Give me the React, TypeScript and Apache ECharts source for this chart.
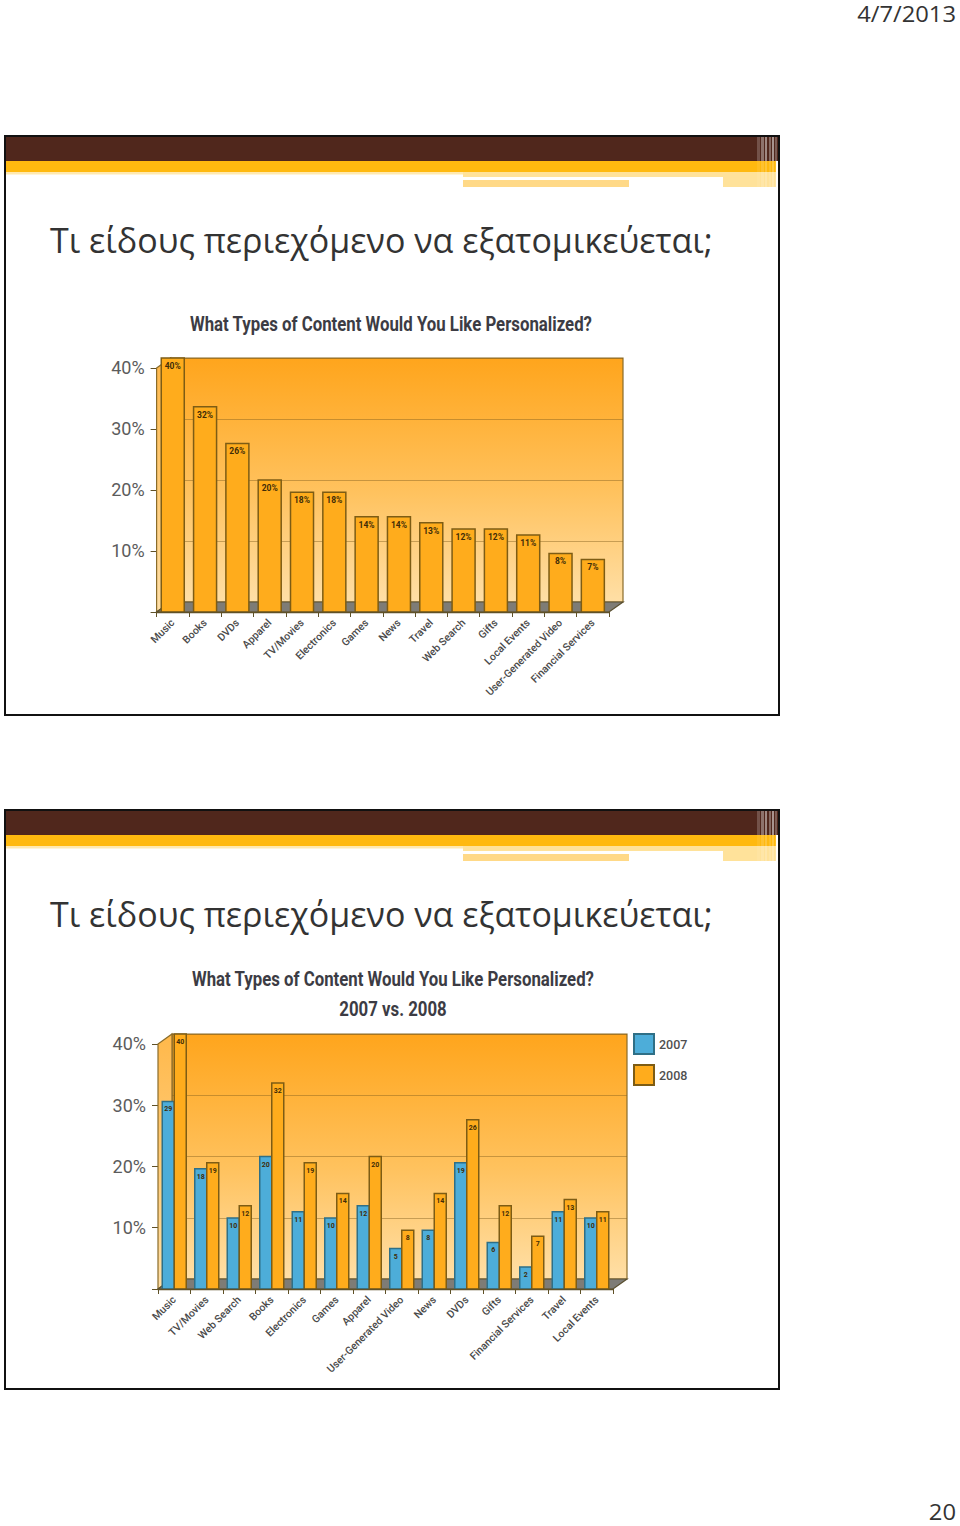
import React, { useEffect, useRef } from "react";
import * as echarts from "echarts";

const heading = "Τι είδους περιεχόμενο να εξατομικεύεται;";
const chartTitle = "What Types of Content Would You Like Personalized?";
const chartSubtitle = "2007 vs. 2008";
const dateText = "4/7/2013";
const pageNumber = "20";

const categoriesA = ["Music", "Books", "DVDs", "Apparel", "TV/Movies", "Electronics", "Games", "News", "Travel", "Web Search", "Gifts", "Local Events", "User-Generated Video", "Financial Services"];
const valuesA = [40, 32, 26, 20, 18, 18, 14, 14, 13, 12, 12, 11, 8, 7];

const categoriesB = ["Music", "TV/Movies", "Web Search", "Books", "Electronics", "Games", "Apparel", "User-Generated Video", "News", "DVDs", "Gifts", "Financial Services", "Travel", "Local Events"];
const values2007 = [29, 18, 10, 20, 11, 10, 12, 5, 8, 19, 6, 2, 11, 10];
const values2008 = [40, 19, 12, 32, 19, 14, 20, 8, 14, 26, 12, 7, 13, 11];

const yTicks = [10, 20, 30, 40];
const W = 960, H = 1526;
const FONT = "Roboto,'Liberation Sans',sans-serif";
const ORANGE = "#FFAC1C", BLUE = "#4DADD9";
const EDGE_O = "#7d5c14", EDGE_B = "#2f6f86", WALL_EDGE = "#8a6c2a";
const DEPTH_X = 14, DEPTH_Y = 10, FLOOR_VALUE = -1.6, TOP_FRONT = 41.6;

function header(dy: number): any[] {
  const r = (x: number, y: number, w: number, h: number, fill: string, opacity = 1) => ({
    type: "rect", z: 0, silent: true, shape: { x, y: y + dy, width: w, height: h }, style: { fill, opacity },
  });
  const stripes = [[757, 3, 0.2], [761, 3, 0.35], [765, 2, 0.45], [769, 2, 0.3], [772, 2, 0.5], [775, 2, 0.25]];
  return [
    { type: "rect", z: 0, silent: true, shape: { x: 5, y: 136 + dy, width: 774, height: 579 }, style: { fill: "none", stroke: "#111", lineWidth: 2 } },
    r(6, 137, 772, 24, "#50271C"),
    r(6, 161, 770, 11, "#FFB90F"),
    r(6, 172, 457, 2.5, "#FFE9B0"),
    r(463, 172, 313, 5, "#FFE29A"),
    r(463, 180, 166, 7, "#FFD987"),
    r(723, 177, 53, 10, "#FFE29A"),
    ...stripes.map(([x, w, o]) => r(x, 137, w, 24, "#fff", o)),
    ...stripes.map(([x, w, o]) => r(x, 161, w, 26, "#fff", o * 0.4)),
    { type: "text", z: 1, silent: true, style: { x: 50, y: 240 + dy, text: heading, fill: "#333", fontFamily: "'Open Sans'", fontSize: 34, textAlign: "left", textVerticalAlign: "middle" } },
  ];
}

function squeezedTitle(text: string, x: number, y: number): any {
  return {
    type: "text", z: 5, silent: true, x, y, scaleX: 0.8, scaleY: 1,
    style: { x: 0, y: 0, text, fill: "#3c3c44", fontFamily: FONT, fontWeight: "bold", fontSize: 21, textAlign: "center", textVerticalAlign: "middle" },
  };
}

function cornerText(text: string, y: number, stretch: number): any {
  return {
    type: "text", z: 1, silent: true, x: 956, y, scaleX: stretch, scaleY: 1,
    style: { x: 0, y: 0, text, fill: "#333", fontFamily: "'Open Sans'", fontSize: 22, textAlign: "right", textVerticalAlign: "middle" },
  };
}

function floorParts(left: number, right: number, top: number, bottom: number): any[] {
  return [
    { type: "polygon", z: 1, silent: true, shape: { points: [[left, top + DEPTH_Y], [left + DEPTH_X, top], [left + DEPTH_X, bottom - DEPTH_Y], [left, bottom]] },
      style: { fill: new echarts.graphic.LinearGradient(0, 0, 0, 1, [{ offset: 0, color: "#FFB84A" }, { offset: 1, color: "#FFDFA6" }]), stroke: WALL_EDGE, lineWidth: 1.2 } },
    { type: "polygon", z: 1, silent: true, shape: { points: [[left, bottom], [right, bottom], [right + DEPTH_X, bottom - DEPTH_Y], [left + DEPTH_X, bottom - DEPTH_Y]] },
      style: { fill: "#7E7C76", stroke: "#5a5030", lineWidth: 1.2 } },
  ];
}

function barSeries(name: string, values: number[], x: number, y: number, color: string, edge: string, width: number, shift: number, suffix: string, labelSize: number): any {
  return {
    type: "custom", name, xAxisIndex: x, yAxisIndex: y, z: 3, clip: false,
    itemStyle: { color, borderColor: edge, borderWidth: 1.5 },
    data: values.map((v, i) => [i, v]),
    encode: { x: 0, y: 1 },
    renderItem: (_p: any, api: any) => {
      const i = api.value(0), v = api.value(1);
      const top = api.coord([i, v]);
      const base = api.coord([i, FLOOR_VALUE]);
      const bx = top[0] + shift - width / 2;
      return {
        type: "group",
        children: [
          { type: "rect", shape: { x: bx, y: top[1], width, height: base[1] - top[1] }, style: { fill: color, stroke: edge, lineWidth: 1.5 } },
          { type: "text", style: { x: bx + width / 2, y: top[1] + 8, text: `${v}${suffix}`, fill: "#3f2c08", fontFamily: FONT, fontWeight: "bold", fontSize: labelSize, textAlign: "center", textVerticalAlign: "middle" } },
        ],
      };
    },
  };
}

function panel(cats: string[], left: number, right: number, top: number, bottom: number, baseIndex: number) {
  const grids = [
    { left: left + DEPTH_X, width: right - left, top, height: bottom - DEPTH_Y - top, show: true, z: 0, borderColor: WALL_EDGE, borderWidth: 1.2,
      backgroundColor: new echarts.graphic.LinearGradient(0, 0, 0, 1, [{ offset: 0, color: "#FFA51C" }, { offset: 0.55, color: "#FFC25E" }, { offset: 1, color: "#FFDFA6" }]) },
    { left, width: right - left, top, height: bottom - top },
  ];
  const xAxes = [
    { type: "category", gridIndex: baseIndex, show: false, data: cats },
    { type: "category", gridIndex: baseIndex + 1, data: cats, z: 4,
      axisLine: { show: true, onZero: false, lineStyle: { color: "#5f5128", width: 1.4 } },
      axisTick: { show: true, length: 5, lineStyle: { color: "#5f5128" } },
      axisLabel: { interval: 0, rotate: 45, margin: 9, color: "#4a4a4a", fontFamily: FONT, fontWeight: 500, fontSize: 10.5 } },
  ];
  const yAxes = [
    { type: "value", gridIndex: baseIndex, min: 0, max: 40, interval: 10,
      axisLine: { show: false }, axisTick: { show: false }, axisLabel: { show: false },
      splitLine: { show: true, lineStyle: { color: "rgba(130,95,30,0.45)", width: 1 } } },
    { type: "value", gridIndex: baseIndex + 1, min: 0, max: TOP_FRONT, position: "left",
      axisLine: { show: false }, splitLine: { show: false },
      axisTick: { show: true, length: 6, customValues: [0, ...yTicks], lineStyle: { color: "#5f5128" } },
      axisLabel: { customValues: yTicks, margin: 12, formatter: (v: number) => `${v}%`, color: "#5c5c5c", fontFamily: FONT, fontSize: 18 } },
    { type: "value", gridIndex: baseIndex + 1, min: FLOOR_VALUE, max: 40, show: false, splitLine: { show: false } },
  ];
  return { grids, xAxes, yAxes };
}

const A = { left: 156.6, right: 609, top: 358, bottom: 612 };
const B = { left: 158, right: 613, top: 1034, bottom: 1289 };

export default function App() {
  const ref = useRef<HTMLDivElement>(null);
  useEffect(() => {
    document.body.style.margin = "0";
    const chart = echarts.init(ref.current!, undefined, { renderer: "svg" });
    const pa = panel(categoriesA, A.left, A.right, A.top, A.bottom, 0);
    const pb = panel(categoriesB, B.left, B.right, B.top, B.bottom, 2);
    chart.setOption({
      animation: false,
      backgroundColor: "#fff",
      legend: {
        show: true, orient: "vertical", left: 633, top: 1033, padding: 0, itemWidth: 20, itemHeight: 20, itemGap: 9, icon: "rect",
        data: ["2007", "2008"],
        textStyle: { color: "#4f4f4f", fontFamily: FONT, fontWeight: 500, fontSize: 12.5 },
      },
      grid: [...pa.grids, ...pb.grids],
      xAxis: [...pa.xAxes, ...pb.xAxes],
      yAxis: [...pa.yAxes, ...pb.yAxes],
      series: [
        barSeries("Share", valuesA, 1, 2, ORANGE, EDGE_O, 23, 0, "%", 8.5),
        barSeries("2007", values2007, 3, 5, BLUE, EDGE_B, 12, -6, "", 7),
        barSeries("2008", values2008, 3, 5, ORANGE, EDGE_O, 12, 6, "", 7),
      ],
      graphic: [{
        elements: [
          ...header(0),
          ...header(674),
          ...floorParts(A.left, A.right, A.top, A.bottom),
          ...floorParts(B.left, B.right, B.top, B.bottom),
          squeezedTitle(chartTitle, 391, 324),
          squeezedTitle(chartTitle, 393, 979),
          squeezedTitle(chartSubtitle, 393, 1009),
          cornerText(dateText, 14, 1.08),
          cornerText(pageNumber, 1512, 1.08),
        ],
      }],
    });
    return () => chart.dispose();
  }, []);
  return <div ref={ref} style={{ position: "absolute", left: 0, top: 0, width: W, height: H }} />;
}
